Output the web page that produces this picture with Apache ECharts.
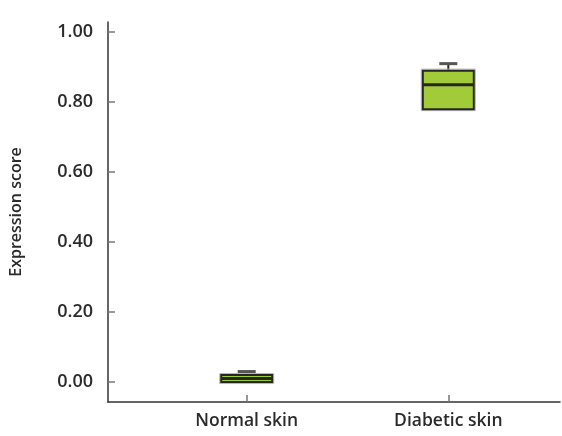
<!DOCTYPE html>
<html>
<head>
<meta charset="utf-8">
<script src="https://cdn.jsdelivr.net/npm/echarts@6/dist/echarts.min.js"></script>
<style>html,body{margin:0;padding:0;background:#fff;}#c{width:562px;height:436px;}</style>
</head>
<body>
<div id="c"></div>
<script>
var categories = ['Normal skin', 'Diabetic skin'];
var minVals = [0.00, 0.78];
var q1Vals = [0.00, 0.78];
var medianVals = [0.01, 0.85];
var q3Vals = [0.02, 0.89];
var maxVals = [0.03, 0.91];
var yTicks = [0, 0.2, 0.4, 0.6, 0.8, 1.0];

var chart = echarts.init(document.getElementById('c'));
var data = categories.map(function (c, i) {
  return [i + 1, minVals[i], q1Vals[i], medianVals[i], q3Vals[i], maxVals[i]];
});
var textColor = '#2b2b2b';
var font = '"Open Sans", sans-serif';

chart.setOption({
  animation: false,
  grid: { left: 108, right: 2, top: 22, bottom: 34 },
  xAxis: {
    type: 'value', min: 0.312, max: 2.554,
    splitLine: { show: false },
    axisLine: { show: true, onZero: false, lineStyle: { color: '#333', width: 1.5 } },
    axisTick: { show: true, inside: true, length: 7, customValues: [1, 2], lineStyle: { color: '#777', width: 1.5 } },
    axisLabel: {
      customValues: [1, 2], margin: 10,
      formatter: function (v) { return categories[Math.round(v) - 1]; },
      color: textColor, fontSize: 17.5, fontWeight: 600, fontFamily: font
    }
  },
  yAxis: {
    type: 'value', min: -0.057, max: 1.029,
    name: 'Expression score', nameLocation: 'middle', nameGap: 84,
    nameTextStyle: { color: textColor, fontSize: 16, fontWeight: 600, fontFamily: font },
    splitLine: { show: false },
    axisLine: { show: true, onZero: false, lineStyle: { color: '#333', width: 1.5 } },
    axisTick: { show: true, inside: true, length: 7, customValues: yTicks, lineStyle: { color: '#777', width: 1.5 } },
    axisLabel: {
      customValues: yTicks, margin: 15,
      formatter: function (v) { return v.toFixed(2); },
      color: textColor, fontSize: 18, fontWeight: 600, fontFamily: font
    }
  },
  series: [{
    type: 'custom',
    data: data,
    encode: { x: 0, y: [1, 2, 3, 4, 5] },
    renderItem: function (params, api) {
      var x = api.value(0);
      var pMin = api.coord([x, api.value(1)]);
      var pQ1 = api.coord([x, api.value(2)]);
      var pMed = api.coord([x, api.value(3)]);
      var pQ3 = api.coord([x, api.value(4)]);
      var pMax = api.coord([x, api.value(5)]);
      var cx = pMed[0];
      var bw = 51, cw = 18;
      return {
        type: 'group',
        children: [
          { type: 'line', shape: { x1: cx, y1: pQ3[1], x2: cx, y2: pMax[1] }, style: { stroke: '#2a2a2a', lineWidth: 2 } },
          { type: 'line', shape: { x1: cx - cw / 2, y1: pMax[1], x2: cx + cw / 2, y2: pMax[1] }, style: { stroke: '#555', lineWidth: 3 } },
          { type: 'line', shape: { x1: cx, y1: pQ1[1], x2: cx, y2: pMin[1] }, style: { stroke: '#2a2a2a', lineWidth: 2 } },
          { type: 'rect', shape: { x: cx - bw / 2 - 1.5, y: pQ3[1] - 1.5, width: bw + 3, height: pQ1[1] - pQ3[1] + 3 }, style: { fill: 'none', stroke: '#b5b5b5', lineWidth: 1 } },
          { type: 'rect', shape: { x: cx - bw / 2, y: pQ3[1], width: bw, height: pQ1[1] - pQ3[1] }, style: { fill: '#a2cb3a', stroke: '#262626', lineWidth: 2 } },
          { type: 'line', shape: { x1: cx - bw / 2, y1: pMed[1], x2: cx + bw / 2, y2: pMed[1] }, style: { stroke: '#262626', lineWidth: 3 } }
        ]
      };
    }
  }]
});
</script>
</body>
</html>
